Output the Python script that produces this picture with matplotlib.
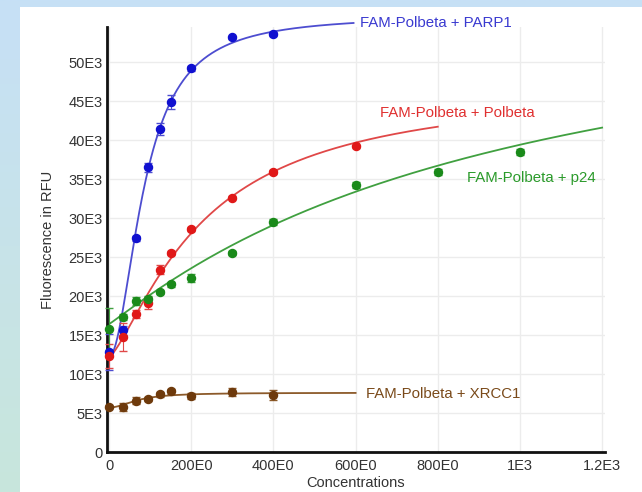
import numpy as np
import matplotlib
matplotlib.use("Agg")
import matplotlib.pyplot as plt
from matplotlib.patches import Rectangle
from matplotlib.ticker import FixedLocator, FixedFormatter

plt.rcParams['font.family'] = ['Liberation Sans', 'DejaVu Sans']

# ---- data ----
conc = [0, 33, 66, 95, 125, 150, 200, 300, 400]
parp1 = [12.8e3, 15.6e3, 27.4e3, 36.5e3, 41.4e3, 44.9e3, 49.2e3, 53.2e3, 53.6e3]
parp1_err = [2.3e3, 0.6e3, 0.3e3, 0.6e3, 0.8e3, 0.9e3, 0.3e3, 0.2e3, 0.2e3]

conc_pol = [0, 33, 66, 95, 125, 150, 200, 300, 400, 600]
polbeta = [12.3e3, 14.7e3, 17.7e3, 19.1e3, 23.4e3, 25.5e3, 28.6e3, 32.6e3, 35.9e3, 39.2e3]
polbeta_err = [1.5e3, 1.8e3, 0.5e3, 0.8e3, 0.6e3, 0.3e3, 0.3e3, 0.2e3, 0.2e3, 0.2e3]

conc_p24 = [0, 33, 66, 95, 125, 150, 200, 300, 400, 600, 800, 1000]
p24 = [15.8e3, 17.3e3, 19.4e3, 19.6e3, 20.5e3, 21.5e3, 22.3e3, 25.5e3, 29.5e3, 34.2e3, 35.9e3, 38.5e3]
p24_err = [2.7e3, 0.4e3, 0.5e3, 0.4e3, 0.3e3, 0.3e3, 0.5e3, 0.3e3, 0.4e3, 0.4e3, 0.4e3, 0.4e3]

xrcc1 = [5.8e3, 5.8e3, 6.6e3, 6.8e3, 7.4e3, 7.8e3, 7.2e3, 7.7e3, 7.3e3]
xrcc1_err = [0.2e3, 0.5e3, 0.4e3, 0.3e3, 0.3e3, 0.3e3, 0.4e3, 0.5e3, 0.6e3]

labels = ["FAM-Polbeta + PARP1", "FAM-Polbeta + Polbeta",
          "FAM-Polbeta + p24", "FAM-Polbeta + XRCC1"]

# fitted-curve parameters (bottom, span, K, hill, fit range end)
fit_parp1 = (12.2e3, 43.8e3, 86.0, 1.95, 595)
fit_pol = (12.2e3, 35.0e3, 230.0, 1.35, 800)
fit_p24 = (16.4e3, 46.0e3, 1000.0, 1.05, 1200)
fit_xrcc1 = (5.7e3, 1.9e3, 70.0, 2.0, 600)

xticks = [0, 200, 400, 600, 800, 1000, 1200]
xticklabels = ["0", "200E0", "400E0", "600E0", "800E0", "1E3", "1.2E3"]
yticks = [0, 5e3, 10e3, 15e3, 20e3, 25e3, 30e3, 35e3, 40e3, 45e3, 50e3]
yticklabels = ["0", "5E3", "10E3", "15E3", "20E3", "25E3", "30E3", "35E3", "40E3", "45E3", "50E3"]


def hill(x, p):
    b, s, k, n, _ = p
    return b + s * x**n / (k**n + x**n)


fig = plt.figure(figsize=(6.42, 4.92), dpi=100)
fig.patch.set_facecolor('white')

# background: light blue frame with gradient on the left strip
axbg = fig.add_axes([0, 0, 1, 1], zorder=-10)
grad = np.linspace(0, 1, 200).reshape(-1, 1)
cmap = matplotlib.colors.LinearSegmentedColormap.from_list('g', ['#c6e0f6', '#c8e6dc'])
axbg.imshow(grad, aspect='auto', cmap=cmap, extent=[0, 1, 0, 1], origin='upper')
axbg.add_patch(Rectangle((20/642, 0), 1, 1 - 7/492, facecolor='white', edgecolor='none'))
axbg.set_xlim(0, 1)
axbg.set_ylim(0, 1)
axbg.axis('off')

ax = fig.add_axes([107/642, 1 - 452/492, (605-107)/642, (452-27)/492])
ax.set_facecolor('white')
ax.set_xlim(-5, 1207)
ax.set_ylim(0, 54.5e3)

series = [
    (conc, parp1, parp1_err, fit_parp1, '#1010d0', '#4d4dd0'),
    (conc_pol, polbeta, polbeta_err, fit_pol, '#e01818', '#e04848'),
    (conc_p24, p24, p24_err, fit_p24, '#1a8a1a', '#40a040'),
    (conc, xrcc1, xrcc1_err, fit_xrcc1, '#6e3a0c', '#8c5a2a'),
]
for xs, ys, es, fp, mc, lc in series:
    xf = np.linspace(0, fp[4], 300)
    ax.plot(xf, hill(xf, fp), color=lc, lw=1.3, clip_on=False, zorder=2)
    ax.errorbar(xs, ys, yerr=es, fmt='o', color=mc, ms=5.8, ecolor=lc,
                elinewidth=0.8, capsize=3, zorder=3, clip_on=False)

ax.text(610, 55.0e3, labels[0], color='#3a3ad0', fontsize=10.8, va='center', ha='left',
        clip_on=False)
ax.text(660, 43.5e3, labels[1], color='#e03030', fontsize=10.8, va='center', ha='left')
ax.text(870, 35.2e3, labels[2], color='#2a9a2a', fontsize=10.8, va='center', ha='left')
ax.text(625, 7.5e3, labels[3], color='#7a4a1a', fontsize=10.8, va='center', ha='left')

ax.xaxis.set_major_locator(FixedLocator(xticks))
ax.xaxis.set_major_formatter(FixedFormatter(xticklabels))
ax.yaxis.set_major_locator(FixedLocator(yticks))
ax.yaxis.set_major_formatter(FixedFormatter(yticklabels))
ax.tick_params(axis='y', length=0, labelsize=10.5, colors='#333333', pad=3)
ax.tick_params(axis='x', length=0, labelsize=10.5, colors='#333333', pad=5)
ax.grid(True, color='#ececec', lw=1)
ax.set_axisbelow(True)
for s in ['top', 'right']:
    ax.spines[s].set_visible(False)
for s in ['left', 'bottom']:
    ax.spines[s].set_linewidth(2)
    ax.spines[s].set_color('#111111')
ax.set_xlabel("Concentrations", fontsize=10.5, color='#333333', labelpad=2)
ax.set_ylabel("Fluorescence in RFU", fontsize=10.5, color='#333333', labelpad=10)

fig.savefig("out.png", dpi=100)
